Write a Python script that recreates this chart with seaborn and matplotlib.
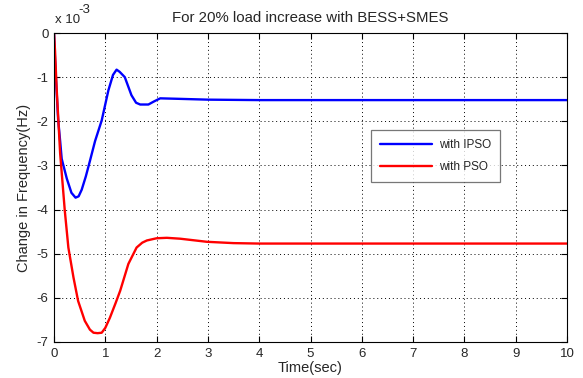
import numpy as np
import pandas as pd
import matplotlib
matplotlib.use("Agg")
import matplotlib.pyplot as plt
import seaborn as sns

# Data (frequency deviation in units of 1e-3 Hz)
ipso_t = [0, 0.02, 0.05, 0.08, 0.12, 0.15, 0.25, 0.34, 0.42, 0.48, 0.54, 0.62, 0.70, 0.80,
          0.93, 1.06, 1.15, 1.22, 1.28, 1.38, 1.51, 1.60, 1.68, 1.84, 1.95, 2.07, 2.39, 3.0, 4.0, 10]
ipso_v = [0, -0.6, -1.3, -1.95, -2.45, -2.85, -3.3, -3.62, -3.73, -3.70, -3.55, -3.25, -2.9, -2.45,
          -1.98, -1.3, -0.95, -0.83, -0.88, -1.0, -1.41, -1.58, -1.62, -1.62, -1.55, -1.48, -1.49, -1.51, -1.52, -1.52]
pso_t = [0, 0.02, 0.05, 0.12, 0.21, 0.28, 0.38, 0.47, 0.60, 0.70, 0.77, 0.85, 0.93, 1.0, 1.09,
         1.2, 1.29, 1.45, 1.61, 1.72, 1.81, 2.0, 2.2, 2.46, 2.98, 3.5, 4.0, 10]
pso_v = [0, -0.4, -1.22, -2.73, -4.02, -4.86, -5.54, -6.07, -6.52, -6.72, -6.79, -6.8, -6.79, -6.68, -6.45,
         -6.12, -5.84, -5.23, -4.86, -4.75, -4.7, -4.65, -4.64, -4.66, -4.73, -4.76, -4.77, -4.77]
series_names = ["with IPSO", "with PSO"]
x_ticks = [0, 1, 2, 3, 4, 5, 6, 7, 8, 9, 10]
y_ticks = [0, -1, -2, -3, -4, -5, -6, -7]

df = pd.concat([
    pd.DataFrame({"t": ipso_t, "v": ipso_v, "s": series_names[0]}),
    pd.DataFrame({"t": pso_t, "v": pso_v, "s": series_names[1]}),
])

sns.set_style("white")
plt.rcParams['font.family'] = ['Liberation Sans', 'DejaVu Sans']

fig = plt.figure(figsize=(5.83, 3.78), dpi=100)
ax = fig.add_axes([54/583, 1-342/378, (567-54)/583, (342-33)/378])

sns.lineplot(data=df, x="t", y="v", hue="s", palette={"with IPSO": "#0000ff", "with PSO": "#ff0000"},
             linewidth=1.7, ax=ax, sort=False, estimator=None)

ax.set_xlim(0, 10)
ax.set_ylim(-7, 0)
ax.set_xticks(x_ticks)
ax.set_yticks(y_ticks)
ax.set_xticklabels([str(v) for v in x_ticks])
ax.set_yticklabels([str(v) for v in y_ticks])
ax.tick_params(direction="in", length=4, width=0.8, labelsize=9.5, top=True, right=True,
               bottom=True, left=True, color="black", pad=4)
ax.grid(True, linestyle=(0, (1, 3)), color="black", linewidth=0.7)
for sp in ax.spines.values():
    sp.set_color("black")
    sp.set_linewidth(0.8)

ax.set_title("For 20% load increase with BESS+SMES", fontsize=10.8, pad=8)
ax.set_xlabel("Time(sec)", fontsize=10.5, labelpad=1)
ax.set_ylabel("Change in Frequency(Hz)", fontsize=10.5, labelpad=4)

fig.text(55/583, 1-20/378, "x 10", fontsize=9.5, ha="left", va="center")
fig.text(78/583, 1-10/378, "-3", fontsize=9.5, ha="left", va="center")

leg = ax.legend(loc="upper left", bbox_to_anchor=(371/583, 1-130/378), bbox_transform=fig.transFigure,
                fontsize=8.5, fancybox=False, frameon=True, edgecolor="#555555", handlelength=4.4,
                borderpad=0.75, labelspacing=0.85, handletextpad=0.6, borderaxespad=0)
leg.get_frame().set_linewidth(0.9)
leg.set_title(None)

fig.savefig("out.png", dpi=100, facecolor="white")
